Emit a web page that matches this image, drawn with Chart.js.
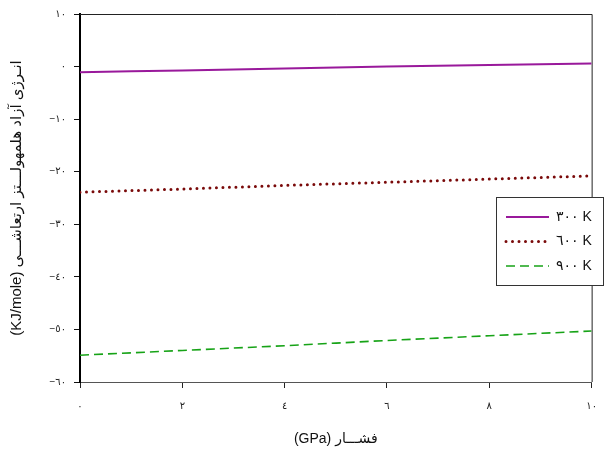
<!DOCTYPE html>
<html>
<head>
<meta charset="utf-8">
<script src="https://cdn.jsdelivr.net/npm/chart.js@4.4.0/dist/chart.umd.min.js"></script>
<style>
  body { margin: 0; background: #fff; }
  canvas { display: block; }
</style>
</head>
<body>
<canvas id="chartContainer" width="609" height="459"></canvas>
<script>
// pressure (GPa) and free energy values
var pressure = [0, 1, 2, 3, 4, 5, 6, 7, 8, 9, 10];
var energy300 = [-1.1, -0.9, -0.75, -0.55, -0.35, -0.2, 0.0, 0.15, 0.3, 0.45, 0.6];
var energy600 = [-23.9, -23.6, -23.3, -22.95, -22.6, -22.3, -22.0, -21.7, -21.4, -21.1, -20.8];
var energy900 = [-54.9, -54.45, -54.0, -53.55, -53.1, -52.6, -52.1, -51.65, -51.2, -50.75, -50.3];

var seriesLabels = ['٣٠٠ K', '٦٠٠ K', '٩٠٠ K'];
var xTickLabels = ['٠', '٢', '٤', '٦', '٨', '١٠'];
var yTickLabels = ['\u2212٦٠', '\u2212٥٠', '\u2212٤٠', '\u2212٣٠', '\u2212٢٠', '\u2212١٠', '٠', '١٠'];

// RLE ... PDF so the Persian titles read right to left
var xTitle = '\u202Bفشـــار (GPa)\u202C';
var yTitle = '\u202Bانـرژی آزاد هلمهولـــتز ارتعاشـــی (KJ/mole)\u202C';

var fontFamily = '"Liberation Sans", Arial, "DejaVu Sans", sans-serif';

function toPoints(values) {
    var pts = [];
    for (var i = 0; i < pressure.length; i++) {
        pts.push({ x: pressure[i], y: values[i] });
    }
    return pts;
}

// box around the plot area
var frameBorder = {
    id: 'frameBorder',
    beforeDatasetsDraw: function (chart) {
        var ctx = chart.ctx, a = chart.chartArea;
        ctx.save();
        ctx.strokeStyle = '#222';
        ctx.lineWidth = 1;
        ctx.beginPath();
        ctx.moveTo(a.left, a.top + 0.5);
        ctx.lineTo(a.right + 0.5, a.top + 0.5);
        ctx.lineTo(a.right + 0.5, a.bottom);
        ctx.stroke();
        ctx.restore();
    }
};

// legend box inside the plot
var insideLegend = {
    id: 'insideLegend',
    afterDraw: function (chart) {
        var ctx = chart.ctx;
        var bx = 496.5, by = 197.5, bw = 107, bh = 88;
        ctx.save();
        ctx.fillStyle = '#fff';
        ctx.fillRect(bx, by, bw, bh);
        ctx.strokeStyle = '#333';
        ctx.lineWidth = 1;
        ctx.strokeRect(bx, by, bw, bh);
        chart.data.datasets.forEach(function (ds, i) {
            var y = 217 + i * 24.5;
            ctx.beginPath();
            ctx.strokeStyle = ds.borderColor;
            ctx.lineWidth = ds.borderWidth;
            ctx.lineCap = ds.borderCapStyle || 'butt';
            ctx.setLineDash(ds.borderDash || []);
            ctx.moveTo(506, y);
            ctx.lineTo(549, y);
            ctx.stroke();
            ctx.setLineDash([]);
            ctx.fillStyle = '#111';
            ctx.font = '14px ' + fontFamily;
            ctx.textAlign = 'left';
            ctx.textBaseline = 'middle';
            ctx.fillText(ds.label, 556, y);
        });
        ctx.restore();
    }
};

var ctx = document.getElementById('chartContainer').getContext('2d');
window.myLineChart = new Chart(ctx, {
    type: 'line',
    data: {
        datasets: [{
            label: seriesLabels[0],
            data: toPoints(energy300),
            borderColor: '#99199b',
            borderWidth: 2,
            pointRadius: 0
        }, {
            label: seriesLabels[1],
            data: toPoints(energy600),
            borderColor: '#7a0a0a',
            borderWidth: 3,
            borderDash: [0, 6.5],
            borderCapStyle: 'round',
            pointRadius: 0
        }, {
            label: seriesLabels[2],
            data: toPoints(energy900),
            borderColor: '#17a317',
            borderWidth: 1.6,
            borderDash: [9, 5],
            pointRadius: 0
        }]
    },
    options: {
        responsive: false,
        animation: false,
        devicePixelRatio: 1,
        layout: { padding: { top: 14, right: 5, left: 0, bottom: 0 } },
        plugins: {
            legend: { display: false },
            tooltip: { enabled: false }
        },
        scales: {
            x: {
                type: 'linear',
                min: 0,
                max: 10,
                afterFit: function (scale) { scale.height = 77; },
                ticks: {
                    stepSize: 2,
                    padding: 12,
                    color: '#222',
                    font: { family: fontFamily, size: 10 },
                    maxRotation: 0,
                    callback: function (v, i) { return xTickLabels[i]; }
                },
                grid: { drawOnChartArea: false, tickLength: 6, color: '#222', tickWidth: 1 },
                border: { color: '#555', width: 1 },
                title: {
                    display: true,
                    text: xTitle,
                    color: '#111',
                    font: { family: fontFamily, size: 14 },
                    padding: { top: 0, bottom: 11 }
                }
            },
            y: {
                min: -60,
                max: 10,
                afterFit: function (scale) { scale.width = 80; },
                ticks: {
                    stepSize: 10,
                    padding: 8,
                    color: '#222',
                    font: { family: fontFamily, size: 10 },
                    callback: function (v, i) { return yTickLabels[i]; }
                },
                grid: { drawOnChartArea: false, tickLength: 6, color: '#111', tickWidth: 1 },
                border: { color: '#000', width: 2 },
                title: {
                    display: true,
                    text: yTitle,
                    color: '#111',
                    font: { family: fontFamily, size: 15 },
                    padding: { top: 8, bottom: 0 }
                }
            }
        }
    },
    plugins: [frameBorder, insideLegend]
});
</script>
</body>
</html>
